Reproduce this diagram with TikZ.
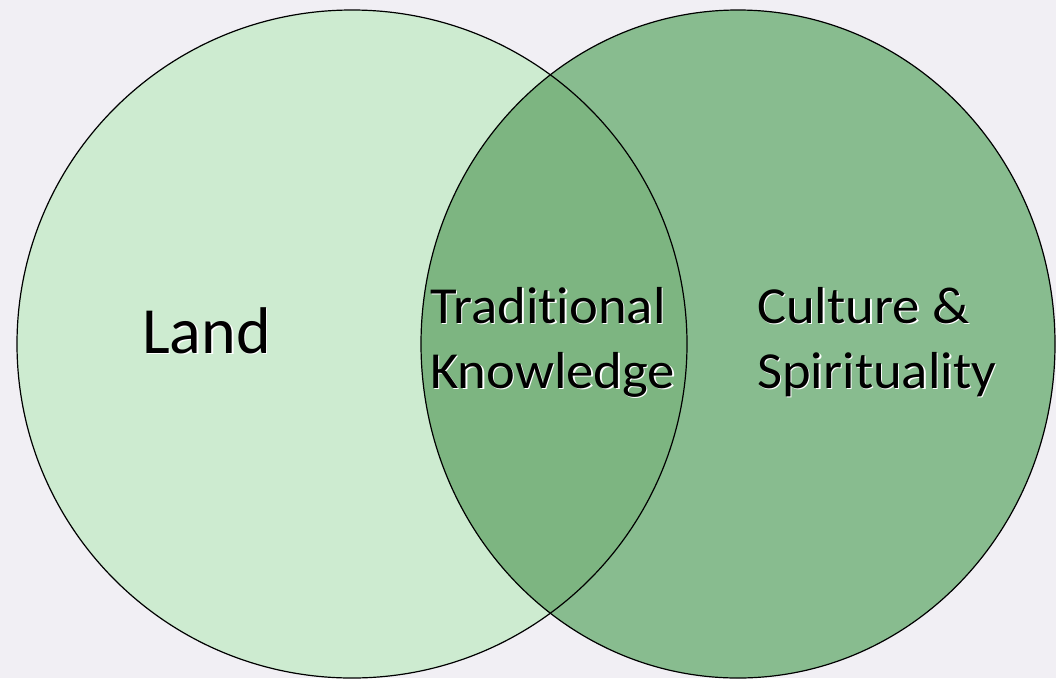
\documentclass[tikz,border=0pt]{standalone}
\usepackage{fontspec}
\setmainfont{Carlito}
\newfontfamily\medfont[FakeStretch=1.05, Ligatures=NoCommon]{Carlito}
\definecolor{bgc}{HTML}{F1EFF4}
\definecolor{leftc}{HTML}{CDEBD0}
\definecolor{rightc}{HTML}{88BC8F}
\definecolor{overc}{HTML}{7DB581}
\tikzset{
  outline/.style={draw=black, line width=1.2pt},
  lbl/.style={inner sep=0pt, anchor=base west, text=black},
  lblshadow/.style={inner sep=0pt, anchor=base west, text=white},
  big/.style={font=\fontsize{66}{70}\selectfont},
  med/.style={font=\medfont\fontsize{52}{65}\selectfont}
}
\begin{document}
\begin{tikzpicture}[x=1pt,y=-1pt]
\useasboundingbox (0,0) rectangle (1056,678);
\fill[bgc] (0,0) rectangle (1056,678);
\coordinate (lc) at (352,344);
\coordinate (rc) at (738,344);
\fill[leftc] (lc) ellipse [x radius=335pt, y radius=334pt];
\fill[rightc] (rc) ellipse [x radius=317pt, y radius=334pt];
\begin{scope}
  \clip (lc) ellipse [x radius=335pt, y radius=334pt];
  \fill[overc] (rc) ellipse [x radius=317pt, y radius=334pt];
\end{scope}
\draw[outline] (lc) ellipse [x radius=335pt, y radius=334pt];
\draw[outline] (rc) ellipse [x radius=317pt, y radius=334pt];
% labels with white shadow
\node[lblshadow, big] (landS) at (143.5,354.5) {Land};
\node[lbl, big] (land) at (142,353) {Land};
\node[lblshadow, med] (trad1S) at (431.5,324.5) {Traditional};
\node[lbl, med] (trad1) at (430,323) {Traditional};
\node[lblshadow, med] (trad2S) at (431.5,389.5) {Knowledge};
\node[lbl, med] (trad2) at (430,388) {Knowledge};
\node[lblshadow, med] (cult1S) at (758.5,324.5) {Culture \&};
\node[lbl, med] (cult1) at (757,323) {Culture \&};
\node[lblshadow, med] (cult2S) at (758.5,389.5) {Spirituality};
\node[lbl, med] (cult2) at (757,388) {Spirituality};
\end{tikzpicture}
\end{document}
